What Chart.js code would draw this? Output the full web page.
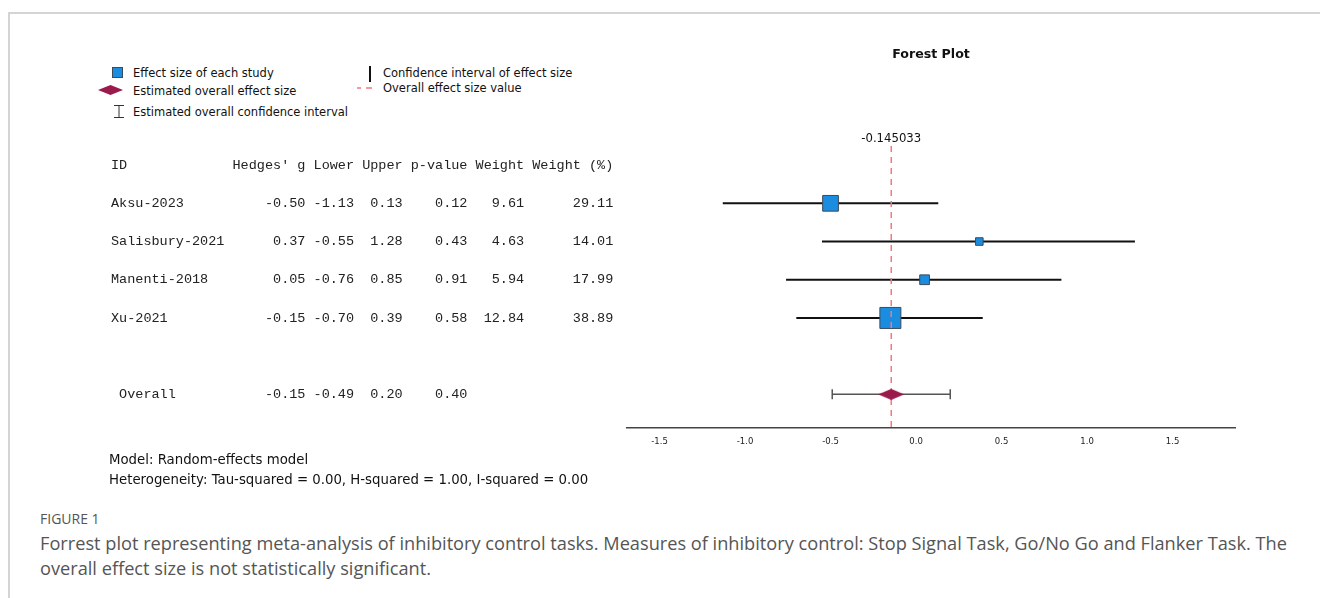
<!DOCTYPE html>
<html>
<head>
<meta charset="utf-8">
<script src="https://cdn.jsdelivr.net/npm/chart.js@4.4.1/dist/chart.umd.min.js"></script>
<style>
  html, body { margin: 0; padding: 0; background: #fff; }
  body { width: 1320px; height: 598px; position: relative; overflow: hidden; }
  .card { position: absolute; left: 8px; top: 12px; width: 1330px; height: 600px;
          border-top: 2px solid #d4d4d4; border-left: 2px solid #d4d4d4; }
  #wrap { position: absolute; left: 0; top: 0; width: 1320px; height: 500px; }
  .t { position: absolute; white-space: nowrap; color: #111; }
  .leg { font: 11.5px "DejaVu Sans", sans-serif; line-height: 14px; }
  .note { font: 13.3px "DejaVu Sans", sans-serif; line-height: 16px; }
  .figlab { font: 14px "Open Sans", sans-serif; color: #555; line-height: 18px; }
  .cap { font: 18.2px "Open Sans", sans-serif; color: #555; line-height: 24px; }
</style>
</head>
<body>
<div class="card"></div>

<svg width="1320" height="130" style="position:absolute;left:0;top:0">
  <rect x="112.5" y="67.5" width="10" height="10" fill="#1b8de0" stroke="#3c4b5c" stroke-width="1"/>
  <polygon points="98,90 110.5,85 123,90 110.5,95" fill="#9a1a4c"/>
  <path d="M114,105.5 H124 M119,105.5 V117.5 M114,117.5 H124" stroke="#333" stroke-width="1" fill="none"/>
  <line x1="370" y1="66" x2="370" y2="82" stroke="#111" stroke-width="2"/>
  <path d="M357,88 H361 M366,88 H372" stroke="#f07a80" stroke-width="1.5"/>
</svg>

<div class="t leg" style="left:133px;top:66px">Effect size of each study</div>
<div class="t leg" style="left:133px;top:84px">Estimated overall effect size</div>
<div class="t leg" style="left:133px;top:105px">Estimated overall confidence interval</div>
<div class="t leg" style="left:383px;top:66px">Confidence interval of effect size</div>
<div class="t leg" style="left:383px;top:81px">Overall effect size value</div>

<div id="wrap"><canvas id="forest"></canvas></div>

<div class="t note" style="left:109px;top:452px">Model: Random-effects model</div>
<div class="t note" style="left:109px;top:472px">Heterogeneity: Tau-squared = 0.00, H-squared = 1.00, I-squared = 0.00</div>

<div class="t figlab" style="left:40px;top:510px">FIGURE 1</div>
<div class="t cap" style="left:40px;top:531px">Forrest plot representing meta-analysis of inhibitory control tasks. Measures of inhibitory control: Stop Signal Task, Go/No Go and Flanker Task. The</div>
<div class="t cap" style="left:40px;top:556px">overall effect size is not statistically significant.</div>

<script>
// study data
const studies = ['Aksu-2023', 'Salisbury-2021', 'Manenti-2018', 'Xu-2021'];
const hedgesG = [-0.50, 0.37, 0.05, -0.15];
const lowerCI = [-1.13, -0.55, -0.76, -0.70];
const upperCI = [0.13, 1.28, 0.85, 0.39];
const pValues = [0.12, 0.43, 0.91, 0.58];
const weights = [9.61, 4.63, 5.94, 12.84];
const weightPct = [29.11, 14.01, 17.99, 38.89];

// pooled estimate
const overallG = -0.145033;
const overallLower = -0.49;
const overallUpper = 0.20;
const overallP = 0.40;

const xTicks = [-1.5, -1.0, -0.5, 0.0, 0.5, 1.0, 1.5];

// row index on the y scale: 0 = header, 1..4 = studies, 6 = overall
const studyRows = studies.map((s, i) => i + 1);
const overallRow = 6;

const diamond = document.createElement('canvas');
diamond.width = 26;
diamond.height = 11;
(function () {
	const c = diamond.getContext('2d');
	c.fillStyle = '#9a1a4c';
	c.beginPath();
	c.moveTo(0, 5.5);
	c.lineTo(13, 0);
	c.lineTo(26, 5.5);
	c.lineTo(13, 11);
	c.closePath();
	c.fill();
})();

const fmt = (v) => v.toFixed(2);

const tablePlugin = {
	id: 'tableText',
	afterDraw(chart) {
		const ctx = chart.ctx;
		const y = chart.scales.y;
		const x = chart.scales.x;
		const area = chart.chartArea;
		ctx.save();
		ctx.fillStyle = '#222';
		ctx.font = '13.5px "Liberation Mono", "Courier New", monospace';
		ctx.textBaseline = 'middle';
		ctx.textAlign = 'left';
		const left = 111;
		ctx.fillText('ID'.padEnd(15) + "Hedges' g Lower Upper p-value Weight Weight (%)", left, y.getPixelForValue(0));
		studies.forEach((s, i) => {
			const line = s.padEnd(15) + fmt(hedgesG[i]).padStart(9) + ' ' + fmt(lowerCI[i]).padStart(5) + ' ' +
				fmt(upperCI[i]).padStart(5) + ' ' + fmt(pValues[i]).padStart(7) + ' ' +
				fmt(weights[i]).padStart(6) + ' ' + fmt(weightPct[i]).padStart(10);
			ctx.fillText(line, left, y.getPixelForValue(studyRows[i]));
		});
		const ov = ' Overall'.padEnd(15) + fmt(overallG).padStart(9) + ' ' + fmt(overallLower).padStart(5) + ' ' +
			fmt(overallUpper).padStart(5) + ' ' + fmt(overallP).padStart(7);
		ctx.fillText(ov, left, y.getPixelForValue(overallRow));

		// title and pooled value label
		ctx.fillStyle = '#111';
		ctx.textAlign = 'center';
		ctx.font = 'bold 12.6px "DejaVu Sans", sans-serif';
		ctx.fillText('Forest Plot', (area.left + area.right) / 2, 55);
		ctx.font = '11.7px "DejaVu Sans", sans-serif';
		ctx.fillText(overallG.toString(), x.getPixelForValue(overallG), area.top - 7);
		ctx.restore();
	}
};

const ciLines = studies.map((s, i) => ({
	type: 'line',
	data: [{ x: lowerCI[i], y: studyRows[i] }, { x: upperCI[i], y: studyRows[i] }],
	borderColor: '#111',
	borderWidth: 2,
	pointRadius: 0,
	order: 4
}));

new Chart(document.getElementById('forest'), {
	type: 'scatter',
	data: {
		datasets: [
			...ciLines,
			{
				type: 'line',
				data: [{ x: overallLower, y: overallRow }, { x: overallUpper, y: overallRow }],
				borderColor: '#555',
				borderWidth: 1.5,
				pointStyle: 'line',
				pointRotation: 90,
				pointRadius: 5,
				pointBorderColor: '#555',
				pointBorderWidth: 1.5,
				order: 3
			},
			{
				data: hedgesG.map((g, i) => ({ x: g, y: studyRows[i] })),
				pointStyle: 'rect',
				pointRadius: weightPct.map((w) => (w * 0.54) / Math.SQRT2),
				pointBackgroundColor: '#1b8de0',
				pointBorderColor: '#3c4b5c',
				pointBorderWidth: 1,
				order: 2
			},
			{
				type: 'line',
				data: [{ x: overallG, y: -0.5 }, { x: overallG, y: 6.88 }],
				borderColor: '#f07a80',
				borderWidth: 1.5,
				borderDash: [6, 5],
				pointRadius: 0,
				order: 1
			},
			{
				data: [{ x: overallG, y: overallRow }],
				pointStyle: diamond,
				pointRadius: 13,
				order: 0
			}
		]
	},
	options: {
		responsive: true,
		maintainAspectRatio: false,
		animation: false,
		events: [],
		layout: { padding: { left: 627, right: 85, top: 146, bottom: 42 } },
		plugins: { legend: { display: false }, tooltip: { enabled: false } },
		scales: {
			x: {
				type: 'linear',
				min: -1.69,
				max: 1.865,
				afterBuildTicks: (scale) => { scale.ticks = xTicks.map((v) => ({ value: v })); },
				afterFit: (scale) => { scale.height = 30; },
				grid: { display: false, drawTicks: false },
				border: { display: true, color: '#444', width: 1.5 },
				ticks: {
					padding: 9,
					color: '#222',
					font: { family: 'DejaVu Sans', size: 8.5 },
					callback: (v) => Number(v).toFixed(1)
				}
			},
			y: {
				type: 'linear',
				display: false,
				reverse: true,
				min: -0.5,
				max: 6.88
			}
		}
	},
	plugins: [tablePlugin]
});
</script>
</body>
</html>
